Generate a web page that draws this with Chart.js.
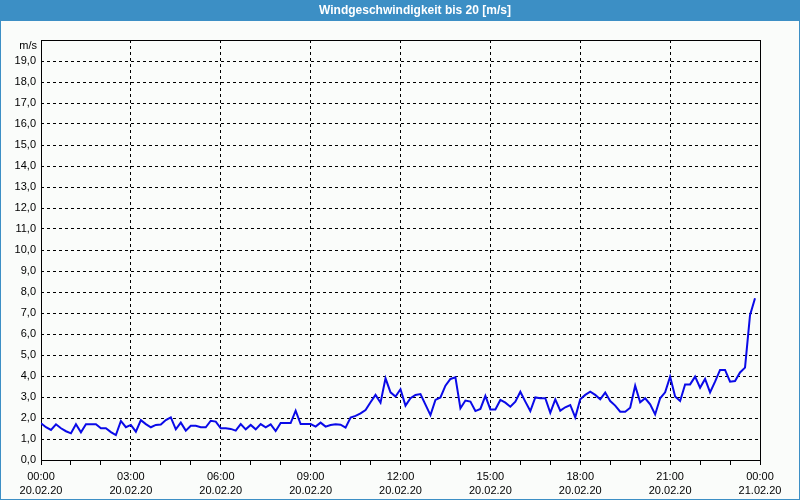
<!DOCTYPE html>
<html><head><meta charset="utf-8">
<script src="https://cdn.jsdelivr.net/npm/chart.js@4/dist/chart.umd.min.js"></script>
<style>html,body{margin:0;padding:0;background:#fff}#wrap{width:800px;height:500px;position:relative}</style>
</head><body><div id="wrap"><canvas id="c" width="800" height="500"></canvas></div>
<script>
const chartTitle = 'Windgeschwindigkeit bis 20 [m/s]';
const unitLabel = 'm/s';
const intervalMinutes = 10;
// wind speed in m/s, one value every 10 minutes from 20.02.20 00:00
const windSpeed = [
  1.75,1.56,1.43,1.70,1.51,1.37,1.27,1.70,1.32,1.70,1.70,1.70,
  1.51,1.51,1.33,1.19,1.86,1.56,1.67,1.35,1.90,1.71,1.56,1.67,
  1.69,1.90,2.03,1.46,1.78,1.40,1.63,1.63,1.56,1.56,1.87,1.83,
  1.51,1.51,1.48,1.40,1.71,1.46,1.67,1.46,1.71,1.56,1.70,1.38,
  1.76,1.76,1.76,2.35,1.71,1.71,1.71,1.59,1.78,1.59,1.67,1.70,
  1.68,1.54,2.02,2.10,2.22,2.38,2.75,3.10,2.73,3.89,3.22,3.02,
  3.37,2.59,2.94,3.10,3.14,2.64,2.14,2.86,2.98,3.54,3.86,3.94,
  2.46,2.83,2.78,2.33,2.43,3.05,2.41,2.41,2.86,2.73,2.54,2.78,
  3.25,2.78,2.33,2.98,2.94,2.94,2.25,2.89,2.35,2.51,2.62,2.03,
  2.89,3.10,3.25,3.10,2.89,3.21,2.81,2.59,2.30,2.30,2.49,3.54,
  2.75,2.94,2.65,2.17,2.94,3.22,3.97,3.02,2.81,3.60,3.60,3.97,
  3.44,3.86,3.22,3.73,4.29,4.29,3.73,3.76,4.17,4.40,6.90,7.70
];
const timeLabels = ['00:00','03:00','06:00','09:00','12:00','15:00','18:00','21:00','00:00'];
const dateLabels = ['20.02.20','20.02.20','20.02.20','20.02.20','20.02.20','20.02.20','20.02.20','20.02.20','21.02.20'];

const BG = '#fafcfa';
const BLUE = '#3c8fc5';
const tickFont = {family: 'Liberation Sans', size: 11, lineHeight: 14/11};

const chrome = {
  id: 'chrome',
  beforeDraw(chart) {
    const ctx = chart.ctx;
    ctx.save();
    ctx.fillStyle = BG;
    ctx.fillRect(0, 0, 800, 500);
    ctx.fillStyle = BLUE;
    ctx.fillRect(0, 0, 800, 21);
    ctx.fillRect(0, 0, 1, 500);
    ctx.fillRect(799, 0, 1, 500);
    ctx.fillRect(0, 499, 800, 1);
    ctx.fillStyle = '#ffffff';
    ctx.font = 'bold 12px "Liberation Sans"';
    ctx.textAlign = 'center';
    ctx.textBaseline = 'middle';
    ctx.fillText(chartTitle, 415, 11);
    ctx.restore();
  },
  beforeDatasetsDraw(chart) {
    const a = chart.chartArea, ctx = chart.ctx;
    ctx.save();
    ctx.strokeStyle = '#000';
    ctx.lineWidth = 1;
    ctx.setLineDash([]);
    ctx.strokeRect(Math.round(a.left) + 0.5, Math.round(a.top) + 0.5,
                   Math.round(a.right - a.left), Math.round(a.bottom - a.top));
    ctx.fillStyle = '#000';
    ctx.font = '11px "Liberation Sans"';
    ctx.textAlign = 'right';
    ctx.textBaseline = 'middle';
    ctx.fillText(unitLabel, a.left - 4, a.top + 6);
    ctx.restore();
  }
};

new Chart(document.getElementById('c'), {
  type: 'line',
  data: {
    datasets: [{
      data: windSpeed.map((v, i) => ({x: i * intervalMinutes / 60, y: v})),
      borderColor: '#0a0ae8',
      borderWidth: 2,
      pointRadius: 0,
      tension: 0,
      fill: false
    }]
  },
  options: {
    responsive: false,
    animation: false,
    devicePixelRatio: 1,
    layout: {padding: {top: 40, right: 40, bottom: 0, left: 0}},
    plugins: {legend: {display: false}, title: {display: false}, tooltip: {enabled: false}},
    scales: {
      x: {
        type: 'linear', min: 0, max: 24,
        afterFit: s => { s.height = 40; },
        ticks: {
          stepSize: 1, autoSkip: false, maxRotation: 0, minRotation: 0,
          color: '#000', font: tickFont, padding: 5,
          callback: v => (v % 3 === 0) ? [timeLabels[v / 3], dateLabels[v / 3]] : ''
        },
        grid: {
          color: c => (c.tick && c.tick.value % 3 === 0) ? '#000' : 'rgba(0,0,0,0)',
          tickColor: '#000', tickLength: 5, lineWidth: 1
        },
        border: {display: false, dash: [3, 3]}
      },
      y: {
        min: 0, max: 20,
        afterFit: s => { s.width = 41; },
        ticks: {
          stepSize: 1, color: '#000', font: tickFont, padding: 5,
          callback: v => v >= 20 ? '' : v.toFixed(1).replace('.', ',')
        },
        grid: {color: '#000', drawTicks: false, lineWidth: 1},
        border: {display: false, dash: [3, 3]}
      }
    }
  },
  plugins: [chrome]
});
</script>
</body></html>
